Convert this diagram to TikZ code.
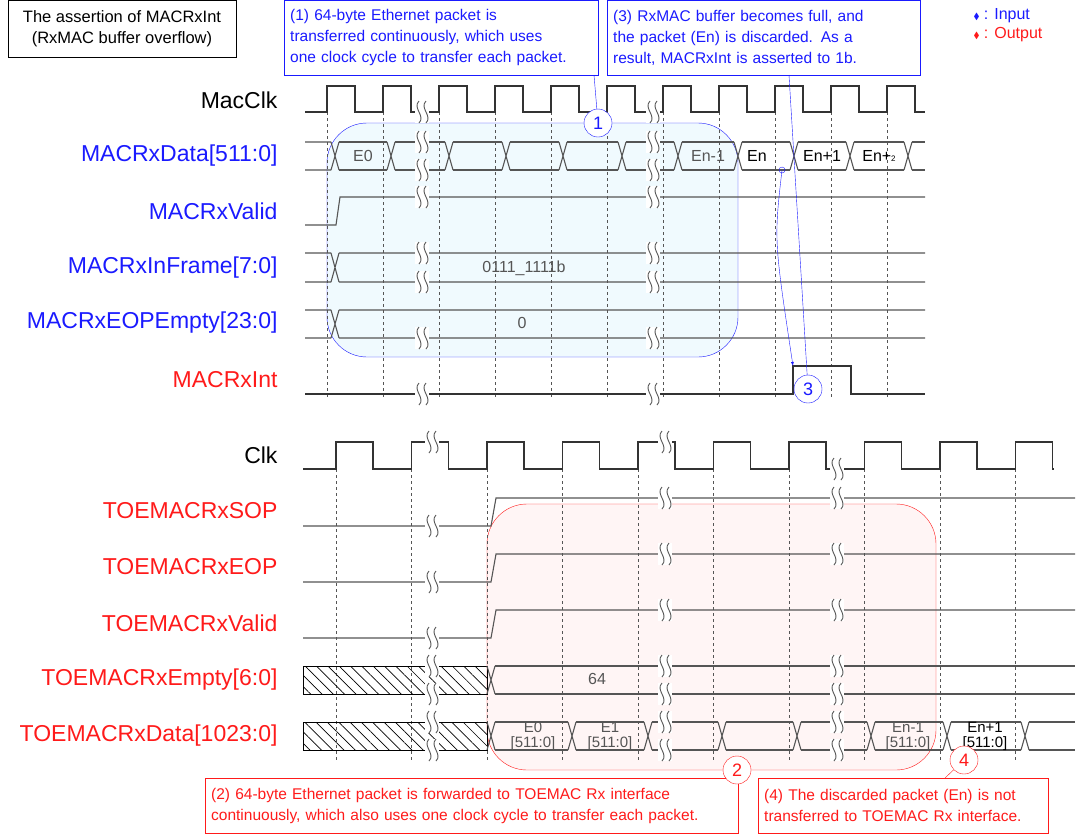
\documentclass[tikz,border=0pt]{standalone}
\usepackage{amssymb}
\usepackage{fontspec}
\setmainfont{Liberation Sans}
\usetikzlibrary{positioning,patterns.meta,calc}
\definecolor{sig}{HTML}{555555}
\definecolor{bblue}{HTML}{1A1AFF}
\definecolor{rred}{HTML}{FF1A1A}
\tikzset{
	lbl/.style={anchor=east,font=\fontsize{23}{26}\selectfont},
	call/.style={draw,align=left,inner sep=6pt,anchor=north west,font=\fontsize{15.5}{21}\selectfont},
	num/.style={circle,draw,fill=white,inner sep=1.5pt,minimum size=28pt,font=\fontsize{18}{20}\selectfont},
	bus/.style={font=\fontsize{16}{16}\selectfont,text=sig},
	sg/.style={sig,line width=1.1pt},
	grid/.style={dashed,sig,line width=0.8pt},
	hatch/.style={pattern={Lines[angle=-45,distance=8pt,line width=0.7pt]}},
	brk/.pic={\fill[white] (-7,-11) rectangle (7,11);
		\draw[sig,line width=0.9pt] (-3,-11) .. controls (-10,-4) and (4,4) .. (-3,11);
		\draw[sig,line width=0.9pt] (4,-11) .. controls (-3,-4) and (11,4) .. (4,11);}
}
\newcommand{\busrow}[4]{% top, bottom, start, list of crossings / end
	\foreach \a/\b in {#4}{
		\draw[sg] (\a+4,#1) -- (\b-4,#1) (\a+4,#2) -- (\b-4,#2);
		\draw[sg] (\b-4,#1) -- (\b+4,#2) (\b-4,#2) -- (\b+4,#1);}
}
\begin{document}
\begin{tikzpicture}[x=1pt,y=-1pt]
	\useasboundingbox (0,0) rectangle (1078,836);
	% callouts
	\node[draw,minimum width=228pt,minimum height=57pt,align=center,font=\fontsize{16.5}{21}\selectfont] (title) at (122,29) {The assertion of MACRxInt\\(RxMAC buffer overflow)};
	\node[call,draw=bblue,text=bblue,text width=302pt,minimum height=75pt] (b1) at (284,0) {(1) 64-byte Ethernet packet is\\transferred continuously, which uses\\one clock cycle to transfer each packet.};
	\node[call,draw=bblue,text=bblue,text width=301pt,minimum height=75pt] (b3) at (607,0) {(3) RxMAC buffer becomes full, and\\the packet (En) is discarded. As a\\result, MACRxInt is asserted to 1b.};
	\node[anchor=west,text=bblue,font=\fontsize{16}{18}\selectfont] (lin) at (970,16) {{\small$\blacklozenge$} : Input};
	\node[anchor=west,text=rred,font=\fontsize{16}{18}\selectfont] (lout) at (970,35) {{\small$\blacklozenge$} : Output};
	\node[call,draw=rred,text=rred,text width=521pt,minimum height=55pt] (b2) at (205,778) {(2) 64-byte Ethernet packet is forwarded to TOEMAC Rx interface\\continuously, which also uses one clock cycle to transfer each packet.};
	\node[call,draw=rred,text=rred,text width=278pt,minimum height=55pt] (b4) at (758,778) {(4) The discarded packet (En) is not\\transferred to TOEMAC Rx interface.};

	% highlight areas
	\draw[bblue,fill=cyan!6,rounded corners=40pt] (327,123) rectangle (738,357);
	\draw[rred,fill=red!4,rounded corners=40pt] (487,504) rectangle (936,770);

	% top labels
	\node[lbl] (mclk) at (281,100) {MacClk};
	\node[lbl,text=bblue] (mdata) at (281,156) {MACRxData[511:0]};
	\node[lbl,text=bblue] (mvalid) at (281,211) {MACRxValid};
	\node[lbl,text=bblue] (mframe) at (281,268) {MACRxInFrame[7:0]};
	\node[lbl,text=bblue] (mempty) at (281,323) {MACRxEOPEmpty[23:0]};
	\node[lbl,text=rred] (mint) at (281,380) {MACRxInt};

	% top grid and waves
	\foreach \k in {0,...,10} \draw[grid] (327+56*\k,112) -- (327+56*\k,398);
	\draw[black!80,line width=1.1pt] (305,112) foreach \k in {0,...,10}{ -- (327+56*\k,112) -- ++(0,-26) -- ++(28,0) -- ++(0,26)} -- (925,112);
	\draw[sg] (305,142) -- (331,142) (305,170) -- (331,170) (331,142) -- (339,170) (331,170) -- (339,142);
	\busrow{142}{170}{}{335/391,391/449,449/506,506/563,563/622,622/678,678/738,738/794,794/850,850/908}
	\draw[sg] (912,142) -- (925,142) (912,170) -- (925,170);
	\draw[sg] (305,225) -- (336,225) -- (340,197) -- (925,197);
	\foreach \t/\b in {253/282,310/338}{
		\draw[sg] (305,\t) -- (331,\t) (305,\b) -- (331,\b) (331,\t) -- (339,\b) (331,\b) -- (339,\t)
			(339,\t) -- (925,\t) (339,\b) -- (925,\b);}
	\draw[black!80,line width=1.1pt] (305,394) -- (793,394) -- (793,366) -- (851,366) -- (851,394) -- (925,394);
	\node[bus] (e0) at (363,156) {E0};
	\node[bus] (en1) at (708,156) {En-1};
	\node[bus,text=black] (en) at (757,156) {En};
	\node[bus,text=black] (en2) at (822,156) {En+1};
	\node[bus,text=black] (en3) at (879,156) {En+{\footnotesize 2}};
	\node[bus] (v1) at (524,268) {0111\_1111b};
	\node[bus] (v2) at (522,323) {0};
	\foreach \x in {422,653}{
		\foreach \y in {112,142,170,197,253,282,338,394} \pic at (\x,\y) {brk};}

	% bottom labels
	\node[lbl] (clk) at (281,455) {Clk};
	\node[lbl,text=rred] (sop) at (281,511) {TOEMACRxSOP};
	\node[lbl,text=rred] (eop) at (281,567) {TOEMACRxEOP};
	\node[lbl,text=rred] (tvalid) at (281,623) {TOEMACRxValid};
	\node[lbl,text=rred] (tempty) at (281,680) {TOEMACRxEmpty[6:0]};
	\node[lbl,text=rred] (tdata) at (281,736) {TOEMACRxData[1023:0]};

	% bottom grid and waves
	\foreach \k in {0,...,9} \draw[grid] (336+75.5*\k,469) -- (336+75.5*\k,760);
	\draw[black!80,line width=1.1pt] (303,469) foreach \k in {0,...,9}{ -- (336+75.5*\k,469) -- ++(0,-27) -- ++(37,0) -- ++(0,27)} -- (1053,469);
	\foreach \l/\h in {526/498,582/554,638/610}
		\draw[sg] (303,\l) -- (491,\l) -- (496,\h) -- (1075,\h);
	\foreach \t/\b in {666/694,722/750}{
		\fill[hatch] (303,\t) rectangle (487,\b);
		\draw[black] (303,\t) rectangle (487,\b);
		\draw[sg] (487,\t) -- (495,\b) (487,\b) -- (495,\t);}
	\draw[sg] (495,666) -- (1075,666) (495,694) -- (1075,694);
	\busrow{722}{750}{}{491/572,572/648,648/722,722/797,797/871,871/947,947/1025}
	\draw[sg] (1029,722) -- (1075,722) (1029,750) -- (1075,750);
	\node[bus] (s64) at (597,679) {64};
	\node[bus,align=center,font=\fontsize{15}{15}\selectfont] (d0) at (533,736) {E0\\{}[511:0]};
	\node[bus,align=center,font=\fontsize{15}{15}\selectfont] (d1) at (610,736) {E1\\{}[511:0]};
	\node[bus,align=center,font=\fontsize{15}{15}\selectfont] (dn1) at (908,736) {En-1\\{}[511:0]};
	\node[bus,align=center,text=black,font=\fontsize{15}{15}\selectfont] (dn2) at (985,736) {En+1\\{}[511:0]};
	\foreach \y in {442,526,582,638,666,694,722,750} \pic at (432,\y) {brk};
	\foreach \y in {442,498,554,610,666,694,722,750} \pic at (665,\y) {brk};
	\foreach \y in {469,498,554,610,666,694,722,750} \pic at (837,\y) {brk};

	% numbered marks
	\node[num,draw=bblue,text=bblue] (c1) at (598,123) {1};
	\node[num,draw=bblue,text=bblue] (c3) at (808,389) {3};
	\node[num,draw=rred,text=rred] (c2) at (737,770) {2};
	\node[num,draw=rred,text=rred] (c4) at (964,760) {4};
	\coordinate (p1) at (594,75);
	\coordinate (p3) at (789,75);
	\coordinate (p4) at (945,778);
	\draw[bblue] (p1) -- (c1);
	\draw[bblue] (p3) -- (c3);
	\draw[rred] (p4) -- (c4);
	\coordinate (enend) at (782,170);
	\draw[bblue] (enend) circle (3pt);
	\draw[bblue,-latex] (enend) .. controls (774,240) .. (793,366);
\end{tikzpicture}
\end{document}
